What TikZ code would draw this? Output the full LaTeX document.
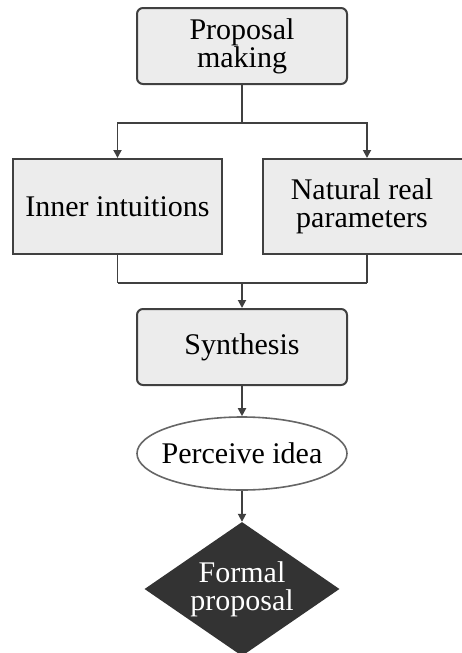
\documentclass[tikz,border=0pt]{standalone}
\usepackage{fontspec}
\setmainfont{Liberation Serif}
\usetikzlibrary{shapes.geometric,arrows.meta}
\definecolor{lineC}{HTML}{404040}
\definecolor{boxC}{HTML}{ECECEC}
\definecolor{darkC}{HTML}{333333}
\begin{document}
\begin{tikzpicture}[x=1pt,y=-1pt,
  txt/.style={font=\fontsize{30}{28}\selectfont, align=center, text=black},
  rbox/.style={txt, draw=lineC, fill=boxC, line width=2pt, rounded corners=6pt, inner sep=0pt},
  sbox/.style={txt, draw=lineC, fill=boxC, line width=2pt, inner sep=0pt},
  oval/.style={txt, ellipse, draw=lineC!80, fill=white, line width=1.6pt, inner sep=0pt},
  dia/.style={txt, diamond, fill=darkC, text=white, inner sep=0pt},
  conn/.style={draw=lineC, line width=1.8pt},
  arr/.style={conn, -{Triangle[length=8pt,width=8pt]}}
]
\useasboundingbox (0,0) rectangle (462,653);
\node[rbox, minimum width=210pt, minimum height=76pt] (pm) at (242,46) {Proposal\\making};
\node[sbox, minimum width=209pt, minimum height=95pt] (inner) at (117.5,206.5) {Inner intuitions};
\node[sbox, minimum width=209pt, minimum height=95pt] (nat) at (367,206.5) {\hspace*{-10pt}Natural real\\\hspace*{-10pt}parameters};
\node[rbox, minimum width=210pt, minimum height=76pt] (syn) at (242,347) {Synthesis};
\node[oval, minimum width=210pt, minimum height=73pt] (per) at (242,453.5) {\makebox[100pt]{Perceive idea}};
\node[dia, minimum width=195pt, minimum height=134pt] (fp) at (242,589) {\makebox[60pt]{Formal}\\\makebox[60pt]{proposal}};
\draw[conn] (pm.south) -- ++(0,38) coordinate (j1);
\draw[arr] (j1) -| (inner.north);
\draw[arr] (j1) -| (nat.north);
\draw[conn] (inner.south) -- ++(0,28) coordinate (j2);
\draw[conn] (nat.south) -- ++(0,28) coordinate (j3);
\draw[conn] (j2) -- (j3);
\coordinate (j4) at (syn.north |- j2);
\draw[arr] (j4) -- (syn.north);
\draw[arr] (syn.south) -- (per.north);
\draw[arr] (per.south) -- (fp.north);
\end{tikzpicture}
\end{document}
